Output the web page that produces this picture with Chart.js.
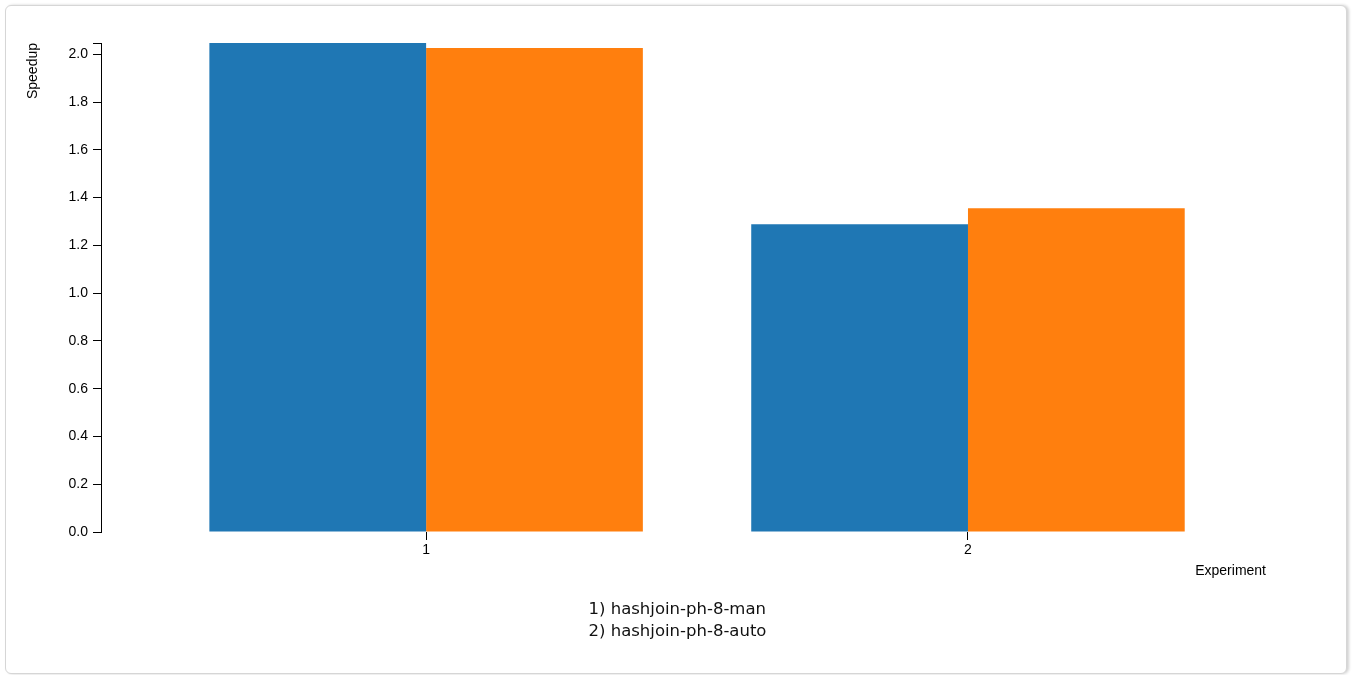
<!DOCTYPE html>
<html>
<head>
<meta charset="utf-8">
<script src="https://cdn.jsdelivr.net/npm/chart.js@4/dist/chart.umd.min.js"></script>
<style>
  html, body { margin: 0; padding: 0; background: #fff; }
  .card {
    position: absolute; left: 5px; top: 5px; width: 1340px; height: 667px;
    border: 1px solid #d6d6d6; border-radius: 6px;
    box-shadow: 2px 0 3px rgba(0, 0, 0, 0.18);
    background: #fff;
  }
  #speedupChart { position: absolute; left: 0; top: 0; }
  .footnotes {
    position: absolute; left: 0; top: 598px; width: 1355px; text-align: center;
    font-family: "DejaVu Sans", Verdana, sans-serif; font-size: 16.5px; line-height: 22px; color: #111;
  }
  .footnotes div.inner { display: inline-block; text-align: left; }
</style>
</head>
<body>
<div class="card"></div>
<canvas id="speedupChart" width="1355" height="675"></canvas>
<div class="footnotes"><div class="inner" id="footnotes"></div></div>
<script>
const experiments = [1, 2];
const manSpeedup = [2.047, 1.288];
const autoSpeedup = [2.026, 1.355];
const yTickValues = [0.0, 0.2, 0.4, 0.6, 0.8, 1.0, 1.2, 1.4, 1.6, 1.8, 2.0];
const seriesNames = ['hashjoin-ph-8-man', 'hashjoin-ph-8-auto'];
const footnotes = ['1) hashjoin-ph-8-man', '2) hashjoin-ph-8-auto'];

let speedupChart;

function initializeChart() {
    Chart.defaults.color = '#000';
    Chart.defaults.font.family = '"Liberation Sans", Arial, sans-serif';
    Chart.defaults.font.size = 14;

    const yMax = Math.max(...manSpeedup, ...autoSpeedup);
    const toPoints = vals => experiments.map((x, i) => ({ x: x, y: vals[i] }));

    const ctx = document.getElementById('speedupChart');
    speedupChart = new Chart(ctx, {
        type: 'bar',
        data: {
            datasets: [
                { label: seriesNames[0], data: toPoints(manSpeedup), backgroundColor: '#1f77b4', borderWidth: 0, categoryPercentage: 0.8, barPercentage: 1.0 },
                { label: seriesNames[1], data: toPoints(autoSpeedup), backgroundColor: '#ff7f0e', borderWidth: 0, categoryPercentage: 0.8, barPercentage: 1.0 }
            ]
        },
        options: {
            responsive: false,
            animation: false,
            layout: { padding: { left: 20, right: 89, top: 43, bottom: 95 } },
            plugins: { legend: { display: false }, tooltip: { enabled: false } },
            scales: {
                x: {
                    type: 'linear',
                    min: 0.4,
                    max: 2.55,
                    offset: false,
                    border: { display: false },
                    grid: { offset: false, drawOnChartArea: false, drawTicks: true, tickLength: 8, tickColor: '#000' },
                    afterBuildTicks: scale => { scale.ticks = experiments.map(v => ({ value: v })); },
                    afterFit: scale => { scale.height = 48; },
                    ticks: { padding: 2, maxRotation: 0, autoSkip: false, callback: v => String(v) },
                    title: { display: true, text: 'Experiment', align: 'end', padding: { top: 4, bottom: 0 } }
                },
                y: {
                    min: 0,
                    max: yMax,
                    border: { display: true, color: '#000', width: 1 },
                    grid: { drawOnChartArea: false, drawTicks: true, tickLength: 8, tickColor: '#000' },
                    afterBuildTicks: scale => { scale.ticks = yTickValues.map(v => ({ value: v })).concat([{ value: yMax }]); },
                    afterFit: scale => { scale.width = 81; },
                    ticks: { padding: 5, autoSkip: false, callback: (v, i) => i < yTickValues.length ? v.toFixed(1) : '' },
                    title: { display: true, text: 'Speedup', align: 'end', padding: { top: 5, bottom: 0 } }
                }
            }
        }
    });

    document.getElementById('footnotes').innerHTML = footnotes.map(t => '<div>' + t + '</div>').join('');
}

initializeChart();
</script>
</body>
</html>
